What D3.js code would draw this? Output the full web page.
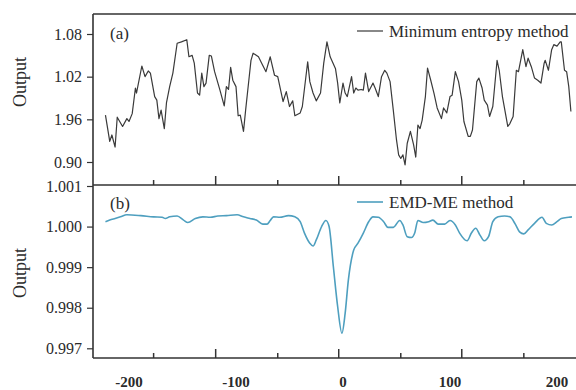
<!DOCTYPE html>
<html><head><meta charset="utf-8">
<script src="https://cdn.jsdelivr.net/npm/d3@7"></script>
<style>body{margin:0;background:#fff}svg{display:block}text{font-family:"Liberation Serif","Times New Roman",serif;fill:#2b2b2b}</style>
</head><body><svg id="c" width="576" height="390"></svg>
<script>
// ---- data ----
const topX = [-222,-218,-216,-213,-211,-206,-202,-200,-197,-194,-193,-188,-185,-182,-180,-176,-174,-172,-170,-167,-165,-162,-159,-155,-151,-146,-144,-141,-139,-136,-134,-132,-130,-128,-125,-123,-120,-115,-111,-109,-107,-105,-103,-100,-98,-96,-93,-91,-88,-86,-84,-79,-76,-72,-68,-67,-64,-61,-56,-53,-50,-47,-45,-40,-38,-33,-31,-28,-25,-21,-18,-15,-12,-7,-5,-3,0,2,4,6,8,10,12,14,17,19,21,24,27,28,30,33,36,39,41,44,47,50,52,54,56,58,60,63,66,68,70,72,74,77,79,82,85,88,92,94,97,100,102,105,108,111,113,117,119,121,125,127,130,132,135,137,140,144,146,149,154,156,159,162,164,168,171,173,176,179,182,185,188,189,192,195,197,200,203,204,207,209,211,213];
const topY = [0.966,0.929,0.938,0.921,0.963,0.950,0.961,0.957,0.968,1.004,0.997,1.035,1.020,1.028,1.025,0.992,0.987,0.961,0.973,0.947,0.983,1.006,1.025,1.067,1.069,1.072,1.048,1.050,1.039,0.997,0.994,1.025,1.006,1.011,1.050,1.049,1.027,1.001,0.979,1.006,1.002,1.033,1.015,1.006,0.965,0.966,0.943,0.973,1.015,1.043,1.053,1.048,1.039,1.027,1.048,1.041,1.022,1.020,0.985,0.999,0.978,0.986,0.965,0.969,0.978,1.041,1.013,0.997,0.986,0.997,1.039,1.069,1.048,1.031,1.011,0.983,1.011,0.997,0.992,1.006,1.020,0.997,1.004,1.001,1.002,1.001,1.025,0.999,1.008,1.011,1.004,0.992,1.020,1.029,1.025,1.013,0.973,0.931,0.910,0.905,0.910,0.896,0.926,0.943,0.924,0.907,0.952,0.947,0.959,0.992,1.032,1.015,0.997,0.976,0.961,0.976,0.969,0.992,0.994,1.027,1.013,0.987,0.957,0.936,0.936,0.945,1.013,1.018,1.004,0.987,0.980,0.964,0.978,1.043,1.029,0.992,0.950,0.954,0.964,1.029,1.027,1.058,1.034,1.046,1.034,1.018,1.015,1.011,1.039,1.043,1.029,1.058,1.065,1.063,1.069,1.069,1.029,1.027,1.006,0.971];
const botX = [-222,-218,-213,-208,-202,-189,-177,-169,-166,-162,-155,-149,-145,-138,-131,-124,-117,-109,-99,-93,-87,-81,-75,-71,-68,-65,-59,-51,-45,-40,-36,-31,-28,-25,-20,-16,-13,-9,-5,-1,2,5,10,14,19,24,28,33,38,42,47,53,56,60,64,67,70,75,80,84,89,95,100,105,109,116,120,124,128,132,136,140,145,151,156,161,165,169,173,179,186,190,195,200,204,211,214];
const botY = [1.00012,1.00016,1.00020,1.00024,1.00029,1.00027,1.00024,1.00023,1.00020,1.00024,1.00026,1.00016,1.00010,1.00020,1.00024,1.00023,1.00026,1.00027,1.00029,1.00024,1.00020,1.00016,1.00006,1.00006,1.00015,1.00024,1.00023,1.00027,1.00024,1.00012,0.99984,0.99959,0.99952,0.99967,1.00000,1.00015,1.00000,0.99901,0.99803,0.99737,0.99786,0.99868,0.99942,0.99959,0.99984,1.00012,1.00024,1.00023,1.00012,0.99998,0.99998,1.00015,1.00004,0.99975,0.99973,0.99984,1.00015,1.00010,1.00012,1.00016,1.00006,1.00006,1.00015,1.00004,0.99984,0.99965,0.99984,0.99996,0.99979,0.99965,0.99975,1.00012,1.00024,1.00026,1.00024,1.00006,0.99987,0.99982,0.99992,1.00008,1.00023,1.00008,1.00004,1.00012,1.00020,1.00023,1.00024];
const topTicks = [0.90,0.96,1.02,1.08];
const topTickLabels = ["0.90","1.96","1.02","1.08"];
const botTicks = [0.997,0.998,0.999,1.000,1.001];
const botTickLabels = ["0.997","0.998","0.999","1.000","1.001"];
const xLabels = [-200,-100,0,100,200];
const xTickMarks = [-177,-119,-61,-4,54,111,169];
const xTickMajor = [false,true,false,true,false,true,false];
const seriesNames = ["Minimum entropy method","EMD-ME method"];
const panelTags = ["(a)","(b)"];

// ---- layout ----
const svg = d3.select("#c");
const L = 93, R = 576, T1 = 14, B1 = 185, T2 = 185, B2 = 358;
const frameColor = "#333";
const x = d3.scaleLinear().domain([-200,200]).range([129,557]);
const yTop = d3.scaleLinear().domain([0.90,1.08]).range([162,34]);
const yBot = d3.scaleLinear().domain([0.997,1.001]).range([348.3,186]);

// y axes
function yAxis(scale, ticks, labels){
  const g = svg.append("g").attr("transform",`translate(${L},0)`)
    .call(d3.axisLeft(scale).tickValues(ticks).tickSize(6).tickPadding(5)
      .tickFormat((d,i)=>labels[i]));
  g.select(".domain").remove();
  g.selectAll(".tick line").attr("stroke",frameColor).attr("stroke-width",1.2);
  g.selectAll(".tick text").style("font-family",'"Liberation Serif",serif').style("font-size","16px").attr("fill","#2b2b2b");
}
yAxis(yTop, topTicks, topTickLabels);
yAxis(yBot, botTicks, botTickLabels);

// frame
const fr = svg.append("g").attr("stroke",frameColor).attr("stroke-width",1.6).attr("fill","none");
fr.append("line").attr("x1",L).attr("x2",L).attr("y1",T1).attr("y2",B2);
fr.append("line").attr("x1",L).attr("x2",R).attr("y1",T1).attr("y2",T1);
fr.append("line").attr("x1",L).attr("x2",R).attr("y1",B1).attr("y2",B1);
fr.append("line").attr("x1",L).attr("x2",R).attr("y1",B2).attr("y2",B2);

// x tick marks (inward) on both panel bottoms
[B1,B2].forEach(yb=>{
  svg.append("g").selectAll("line").data(xTickMarks).join("line")
    .attr("x1",d=>x(d)).attr("x2",d=>x(d))
    .attr("y1",yb).attr("y2",(d,i)=>yb-(xTickMajor[i]?9:5))
    .attr("stroke",frameColor).attr("stroke-width",1.5);
});

// x labels
svg.append("g").selectAll("text").data(xLabels).join("text")
  .attr("x",d=>x(d)).attr("y",387).attr("text-anchor","middle")
  .style("font-size","15px").style("font-weight","bold").text(d=>d);

// lines
const topData = topX.map((v,i)=>[v,topY[i]]);
const botData = botX.map((v,i)=>[v,botY[i]]);
svg.append("path").datum(topData)
  .attr("d",d3.line().x(d=>x(d[0])).y(d=>yTop(d[1])))
  .attr("fill","none").attr("stroke","#3a3a3a").attr("stroke-width",1.2).attr("stroke-linejoin","round");
const blue = "#4e9fbf";
svg.append("path").datum(botData)
  .attr("d",d3.line().curve(d3.curveMonotoneX).x(d=>x(d[0])).y(d=>yBot(d[1])))
  .attr("fill","none").attr("stroke",blue).attr("stroke-width",1.6).attr("stroke-linejoin","round");

// y titles
[[82,"Output"],[273,"Output"]].forEach(([cy,t])=>{
  svg.append("text").attr("transform",`translate(26,${cy}) rotate(-90)`)
    .attr("text-anchor","middle").style("font-size","18px").text(t);
});

// panel tags
svg.append("text").attr("x",110).attr("y",39).style("font-size","17px").text(panelTags[0]);
svg.append("text").attr("x",110).attr("y",209).style("font-size","17px").text(panelTags[1]);

// legends
svg.append("line").attr("x1",357).attr("x2",383).attr("y1",31).attr("y2",31).attr("stroke","#3a3a3a").attr("stroke-width",1.2);
svg.append("text").attr("x",389).attr("y",37).style("font-size","17px").text(seriesNames[0]);
svg.append("line").attr("x1",357).attr("x2",383).attr("y1",202).attr("y2",202).attr("stroke",blue).attr("stroke-width",1.6);
svg.append("text").attr("x",389).attr("y",208).style("font-size","17px").text(seriesNames[1]);
</script></body></html>
